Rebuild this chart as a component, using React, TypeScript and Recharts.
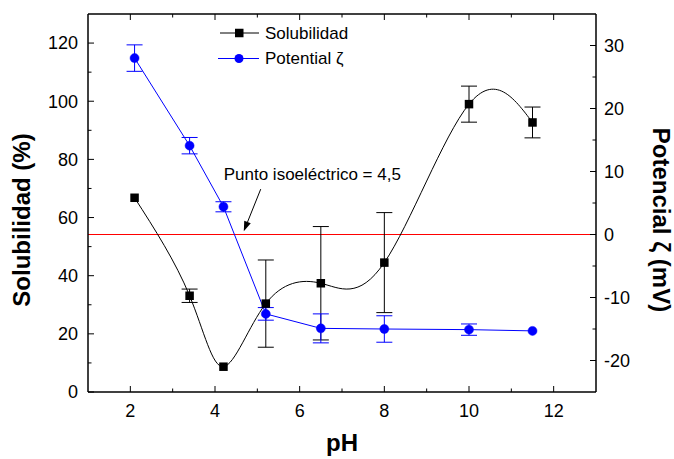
import { LineChart, Line, XAxis, YAxis, ErrorBar, ReferenceLine, Legend } from 'recharts';

const FONT = '"Liberation Sans", Arial, Helvetica, sans-serif';
const BLUE = '#0000ff';

// pH of each sample, shared by both series
const phValues = [2.1, 3.4, 4.2, 5.2, 6.5, 8, 10, 11.5];
// solubility (%) and its standard deviation
const solubilidad = [66.8, 33.1, 8.7, 30.4, 37.4, 44.5, 99, 92.7];
const solubilidadErr = [0, 2.3, 0, 15, 19.5, 17.2, 6.2, 5.3];
// zeta potential (mV) and its standard deviation
const potencial = [28.0, 14.1, 4.4, -12.6, -14.9, -15.0, -15.1, -15.3];
const potencialErr = [2.1, 1.3, 0.8, 1.0, 2.3, 2.1, 0.9, 0];

const phTicks = [2, 3, 4, 5, 6, 7, 8, 9, 10, 11, 12];
const solTicks = [0, 10, 20, 30, 40, 50, 60, 70, 80, 90, 100, 110, 120];
const zetaTicks = [-20, -15, -10, -5, 0, 5, 10, 15, 20, 25, 30];

// arrow pointing at the isoelectric point (pH, mV)
const isoArrow = [
  { x: 5.08, y: 7.2 },
  { x: 4.68, y: 0.5 },
];

const data = phValues.map((ph, i) => ({
  ph,
  sol: solubilidad[i],
  solErr: solubilidadErr[i],
  zeta: potencial[i],
  zetaErr: potencialErr[i],
}));

function BottomTick({ x, y, payload }: any) {
  const major = payload.value % 2 === 0;
  return (
    <g>
      <line x1={x} x2={x} y1={y} y2={y - (major ? 6 : 3.5)} stroke="#000" />
      {major && (
        <text x={x} y={y + 19} dy="0.35em" textAnchor="middle" fontSize={18} fontFamily={FONT} fill="#000">
          {payload.value}
        </text>
      )}
    </g>
  );
}

function TopTick({ x, y, payload }: any) {
  const major = payload.value % 2 === 0;
  return <line x1={x} x2={x} y1={y} y2={y + (major ? 6 : 3.5)} stroke="#000" />;
}

function LeftTick({ x, y, payload }: any) {
  const major = payload.value % 20 === 0;
  return (
    <g>
      <line x1={x} x2={x + (major ? 6 : 3.5)} y1={y} y2={y} stroke="#000" />
      {major && (
        <text x={x - 10} y={y} dy="0.35em" textAnchor="end" fontSize={18} fontFamily={FONT} fill="#000">
          {payload.value}
        </text>
      )}
    </g>
  );
}

function RightTick({ x, y, payload }: any) {
  const major = payload.value % 10 === 0;
  return (
    <g>
      <line x1={x} x2={x - (major ? 6 : 3.5)} y1={y} y2={y} stroke="#000" />
      {major && (
        <text x={x + 8} y={y} dy="0.35em" textAnchor="start" fontSize={18} fontFamily={FONT} fill="#000">
          {payload.value}
        </text>
      )}
    </g>
  );
}

function SquareDot({ cx, cy }: any) {
  if (cx == null || cy == null) return null;
  return <rect x={cx - 4.25} y={cy - 4.25} width={8.5} height={8.5} fill="#000" />;
}

function IsoArrow(props: any) {
  const { x1, y1, x2, y2 } = props;
  const ang = Math.atan2(y2 - y1, x2 - x1);
  const len = 10;
  const half = 3.5;
  const bx = x2 - len * Math.cos(ang);
  const by = y2 - len * Math.sin(ang);
  const nx = -Math.sin(ang) * half;
  const ny = Math.cos(ang) * half;
  return (
    <g>
      <text x={x1 - 37} y={y1 - 15} dy="0.35em" fontSize={17} fontFamily={FONT} fill="#000">
        Punto isoeléctrico = 4,5
      </text>
      <line x1={x1} y1={y1} x2={bx} y2={by} stroke="#000" strokeWidth={1} />
      <polygon points={`${x2},${y2} ${bx + nx},${by + ny} ${bx - nx},${by - ny}`} fill="#000" />
    </g>
  );
}

function LegendBox() {
  return (
    <svg width={170} height={52}>
      <line x1={2} x2={41} y1={13} y2={13} stroke="#000" />
      <rect x={17} y={8.75} width={8.5} height={8.5} fill="#000" />
      <text x={47} y={13} dy="0.35em" fontSize={17} fontFamily={FONT} fill="#000">
        Solubilidad
      </text>
      <line x1={0} x2={41} y1={38.5} y2={38.5} stroke={BLUE} />
      <circle cx={21} cy={38.5} r={4.5} fill={BLUE} />
      <text x={47} y={38.5} dy="0.35em" fontSize={17} fontFamily={FONT} fill="#000">
        Potential ζ
      </text>
    </svg>
  );
}

const axisLine = { stroke: '#000', strokeWidth: 1.5 };

export default function App() {
  return (
    <div style={{ position: 'absolute', left: 0, top: 0, width: 674, height: 459, background: '#fff' }}>
      <LineChart width={674} height={459} data={data} margin={{ top: 0, right: 0, bottom: 0, left: 0 }}>
        <XAxis
          dataKey="ph"
          type="number"
          domain={[1, 13]}
          ticks={phTicks}
          interval={0}
          height={67}
          tickSize={0}
          tickMargin={0}
          tickLine={false}
          axisLine={axisLine}
          tick={<BottomTick />}
          label={{
            content: ({ viewBox }: any) => (
              <text
                x={viewBox.x + viewBox.width / 2}
                y={viewBox.y + 51}
                dy="0.35em"
                textAnchor="middle"
                fontSize={24}
                fontWeight="bold"
                fontFamily={FONT}
                fill="#000"
              >
                pH
              </text>
            ),
          }}
        />
        <XAxis
          xAxisId="top"
          orientation="top"
          dataKey="ph"
          type="number"
          domain={[1, 13]}
          ticks={phTicks}
          interval={0}
          height={14}
          tickSize={0}
          tickMargin={0}
          tickLine={false}
          axisLine={axisLine}
          tick={<TopTick />}
        />
        <YAxis
          yAxisId="left"
          type="number"
          domain={[0, 130]}
          ticks={solTicks}
          interval={0}
          width={88}
          tickSize={0}
          tickMargin={0}
          tickLine={false}
          axisLine={axisLine}
          tick={<LeftTick />}
          label={{
            content: ({ viewBox }: any) => {
              const cx = viewBox.x + viewBox.width - 66;
              const cy = viewBox.y + viewBox.height / 2 + 17;
              return (
                <text
                  x={cx}
                  y={cy}
                  dy="0.35em"
                  transform={`rotate(-90 ${cx} ${cy})`}
                  textAnchor="middle"
                  fontSize={24}
                  fontWeight="bold"
                  fontFamily={FONT}
                  fill="#000"
                >
                  Solubilidad (%)
                </text>
              );
            },
          }}
        />
        <YAxis
          yAxisId="right"
          orientation="right"
          type="number"
          domain={[-25, 35]}
          ticks={zetaTicks}
          interval={0}
          width={78}
          tickSize={0}
          tickMargin={0}
          tickLine={false}
          axisLine={axisLine}
          tick={<RightTick />}
          label={{
            content: ({ viewBox }: any) => {
              const cx = viewBox.x + 65;
              const cy = viewBox.y + viewBox.height / 2 + 17;
              return (
                <text
                  x={cx}
                  y={cy}
                  dy="0.35em"
                  transform={`rotate(90 ${cx} ${cy})`}
                  textAnchor="middle"
                  fontSize={24}
                  fontWeight="bold"
                  fontFamily={FONT}
                  fill="#000"
                >
                  Potencial ζ (mV)
                </text>
              );
            },
          }}
        />

        <ReferenceLine yAxisId="right" y={0} stroke="#ff0000" strokeWidth={1.2} />
        <ReferenceLine yAxisId="right" segment={isoArrow} shape={<IsoArrow />} />

        <Line
          yAxisId="left"
          dataKey="sol"
          type="natural"
          stroke="#000"
          strokeWidth={1}
          dot={<SquareDot />}
          activeDot={false}
          isAnimationActive={false}
        >
          <ErrorBar dataKey="solErr" width={8} stroke="#000" strokeWidth={1} direction="y" />
        </Line>
        <Line
          yAxisId="right"
          dataKey="zeta"
          type="linear"
          stroke={BLUE}
          strokeWidth={1}
          dot={{ r: 4.5, fill: BLUE, stroke: BLUE, strokeWidth: 0.5 }}
          activeDot={false}
          isAnimationActive={false}
        >
          <ErrorBar dataKey="zetaErr" width={8} stroke={BLUE} strokeWidth={1} direction="y" />
        </Line>

        <Legend
          layout="vertical"
          align="center"
          verticalAlign="middle"
          content={<LegendBox />}
          wrapperStyle={{ position: 'absolute', left: 218, top: 20, width: 170, height: 52 }}
        />
      </LineChart>
    </div>
  );
}
